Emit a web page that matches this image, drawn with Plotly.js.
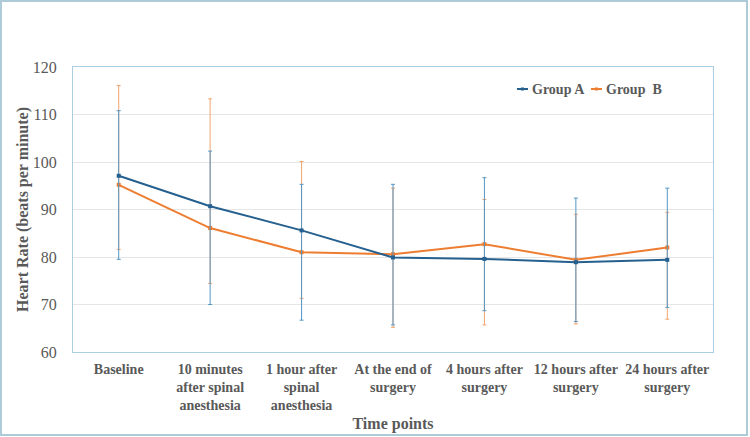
<!DOCTYPE html>
<html>
<head>
<meta charset="utf-8">
<script src="https://cdn.plot.ly/plotly-3.0.1.min.js"></script>
<style>
  html, body { margin: 0; padding: 0; background: #ffffff; }
  #wrap { position: relative; width: 750px; height: 437px; }
  #chart { width: 750px; height: 437px; }
  #frame {
    position: absolute; left: 0; top: 0; width: 748px; height: 436px;
    box-sizing: border-box; border: 2px solid #aecbd9; pointer-events: none;
  }
</style>
</head>
<body>
<div id="wrap">
  <div id="chart"></div>
  <div id="frame"></div>
</div>
<script>
// Time points on the x axis
const timePoints = [
  'Baseline',
  '10 minutes<br>after spinal<br>anesthesia',
  '1 hour after<br>spinal<br>anesthesia',
  'At the end of<br>surgery',
  '4 hours after<br>surgery',
  '12 hours after<br>surgery',
  '24 hours after<br>surgery'
];

// Mean heart rate (beats per minute)
const groupA = [97.1, 90.7, 85.6, 79.9, 79.6, 78.9, 79.4];
const groupB = [95.2, 86.1, 81.0, 80.6, 82.7, 79.4, 82.0];

// Error bar end points for each series
const groupAUpper = [110.8, 102.3, 95.3, 95.3, 96.7, 92.4, 94.5];
const groupALower = [79.5, 70.0, 66.7, 65.7, 68.7, 66.4, 69.4];
const groupBUpper = [116.1, 113.3, 100.1, 94.5, 92.1, 89.0, 89.4];
const groupBLower = [81.6, 74.4, 71.3, 65.2, 65.7, 65.9, 66.9];

const seriesNames = ['Group A', 'Group\u00a0 B'];

const colA = '#25608f', colB = '#ed7d31';
const barA = '#5496c4', barB = '#f2a46f';
const textCol = '#595959';
const serif = 'Liberation Serif, Times New Roman, DejaVu Serif, serif';

const above = (hi, mid) => hi.map((v, i) => v - mid[i]);
const below = (lo, mid) => lo.map((v, i) => mid[i] - v);

const traceB = {
  type: 'scatter', mode: 'lines+markers', name: seriesNames[1],
  x: timePoints, y: groupB,
  line: { color: colB, width: 2 },
  marker: { color: colB, size: 4, symbol: 'square' },
  error_y: {
    type: 'data', symmetric: false,
    array: above(groupBUpper, groupB), arrayminus: below(groupBLower, groupB),
    color: barB, thickness: 1, width: 2
  },
  showlegend: false
};

const traceA = {
  type: 'scatter', mode: 'lines+markers', name: seriesNames[0],
  x: timePoints, y: groupA,
  line: { color: colA, width: 2 },
  marker: { color: colA, size: 4, symbol: 'square' },
  error_y: {
    type: 'data', symmetric: false,
    array: above(groupAUpper, groupA), arrayminus: below(groupALower, groupA),
    color: barA, thickness: 1, width: 2
  },
  showlegend: false
};

// plot area geometry (pixels) used to place the legend keys
const M = { l: 73, r: 37, t: 67, b: 85 };
const W = 750 - M.l - M.r, H = 437 - M.t - M.b;
const px = x => (x - M.l) / W;
const py = y => (437 - M.b - y) / H;

const legendKeys = [
  { x0: 517, x1: 528, tx: 530, color: colA, label: seriesNames[0] },
  { x0: 591, x1: 602, tx: 604, color: colB, label: seriesNames[1] }
];
const legendY = 89;

const shapes = [];
const annotations = [];
legendKeys.forEach(k => {
  shapes.push({
    type: 'line', xref: 'paper', yref: 'paper',
    x0: px(k.x0), x1: px(k.x1), y0: py(legendY), y1: py(legendY),
    line: { color: k.color, width: 2 }
  });
  const c = (k.x0 + k.x1) / 2;
  shapes.push({
    type: 'rect', xref: 'paper', yref: 'paper',
    x0: px(c - 1.5), x1: px(c + 1.5), y0: py(legendY + 1.5), y1: py(legendY - 1.5),
    line: { width: 0 }, fillcolor: k.color
  });
  annotations.push({
    xref: 'paper', yref: 'paper', x: px(k.tx), y: py(legendY),
    xanchor: 'left', yanchor: 'middle', showarrow: false,
    text: '<b>' + k.label + '</b>',
    font: { family: serif, size: 14, color: textCol }
  });
});

const layout = {
  width: 750, height: 437,
  margin: M,
  font: { family: serif, color: textCol },
  paper_bgcolor: '#ffffff', plot_bgcolor: '#ffffff',
  showlegend: false,
  xaxis: {
    type: 'category', range: [-0.5, 6.5],
    showgrid: false, zeroline: false,
    showline: true, linecolor: '#a9cde2', linewidth: 1, mirror: true,
    ticks: '', ticklabelstandoff: 4,
    tickfont: { family: serif, size: 14, color: textCol, weight: 'bold' },
    title: { text: '<b>Time points</b>', standoff: 5,
             font: { family: serif, size: 16, color: textCol } }
  },
  yaxis: {
    range: [60, 120], dtick: 10, tick0: 60,
    showgrid: true, gridcolor: '#e6e6e6', gridwidth: 1, zeroline: false,
    showline: true, linecolor: '#a9cde2', linewidth: 1, mirror: true,
    ticks: '', ticklabelstandoff: 12,
    tickfont: { family: serif, size: 16, color: textCol },
    title: { text: '<b>Heart Rate (beats per minute)</b>', standoff: 0,
             font: { family: serif, size: 16, color: textCol } }
  },
  shapes: shapes,
  annotations: annotations
};

Plotly.newPlot('chart', [traceB, traceA], layout, { displayModeBar: false, staticPlot: true });
</script>
</body>
</html>
